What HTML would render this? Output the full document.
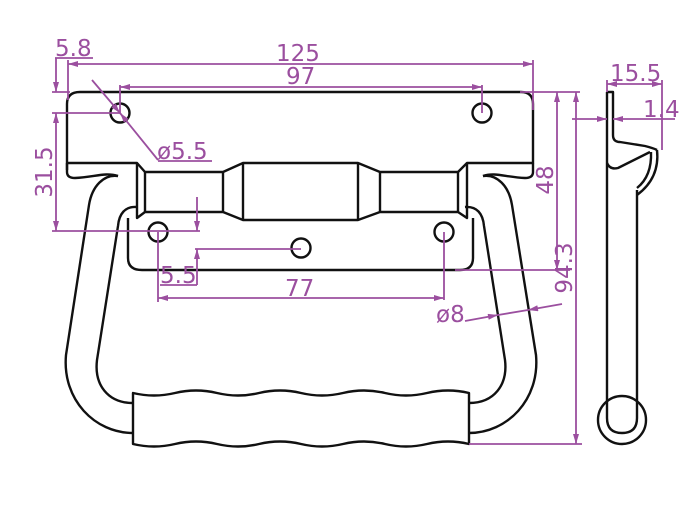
<!DOCTYPE html>
<html><head><meta charset="utf-8"><style>
html,body{margin:0;padding:0;background:#fff;}
svg{display:block}
text{font-family:"DejaVu Sans","Liberation Sans",sans-serif;fill:#9b4f9f;}
</style></head><body>
<svg width="700" height="528" viewBox="0 0 700 528" xmlns="http://www.w3.org/2000/svg">
<defs>
<marker id="a" viewBox="0 0 10 6" refX="10" refY="3" markerWidth="11" markerHeight="6" markerUnits="userSpaceOnUse" orient="auto-start-reverse">
<path d="M0,0 L10,3 L0,6 z" fill="#9b4f9f"/></marker>
</defs>
<g fill="none" stroke="#111" stroke-width="2.4" stroke-linejoin="round">
<path d="M67,170 L67,104 Q67,92 80,92 L521,92 Q533,92 533,104 L533,163 L467,163 L458,172 L380,172 L358,163 L243,163 L223,172 L145,172 L137,163 L67,163"/>
<path d="M67,163 L67,172 Q67,178 75,178 C95,177 105,172 118,176"/>
<path d="M533,163 L533,172 Q533,178 525,178 C505,177 495,172 483,176"/>
<path d="M137,163 L137,218 L145,212 L223,212 L243,220 L358,220 L380,212 L458,212 L467,218 L467,163"/>
<line x1="145" y1="172" x2="145" y2="212"/><line x1="223" y1="172" x2="223" y2="212"/>
<line x1="243" y1="163" x2="243" y2="220"/><line x1="358" y1="163" x2="358" y2="220"/>
<line x1="380" y1="172" x2="380" y2="212"/><line x1="458" y1="172" x2="458" y2="212"/>
<path d="M128,218 L128,258 Q128,270 142,270 L460,270 Q473,270 473,258 L473,218"/>
<circle cx="120" cy="113" r="9.5"/><circle cx="482" cy="113" r="9.5"/>
<circle cx="158" cy="232" r="9.5"/><circle cx="301" cy="248" r="9.5"/><circle cx="444" cy="232" r="9.5"/>
<path d="M118,176 C104,174 92,186 89,205 L66,355 C62,400 95,433 133,433"/>
<path d="M137,207 C125,206 119,214 118,226 L97,360 C94,385 108,403 133,403"/>
<path d="M483,176 C497,174 509,186 512,205 L536,355 C540,400 507,433 469,433"/>
<path d="M465,207 C477,206 483,214 484,226 L505,360 C508,385 494,403 469,403"/>
<path d="M133,393 q21,5 42,0 t42,0 t42,0 t42,0 t42,0 t42,0 t42,0 t42,0 L469,444 q-21,-5 -42,0 t-42,0 t-42,0 t-42,0 t-42,0 t-42,0 t-42,0 t-42,0 Z" fill="#fff"/>
<path d="M607,92 L613,92 L613,135 Q613,142 620,142 L645,146 Q653,148 657,150"/>
<path d="M607,92 L607,410"/>
<path d="M637,190 L637,410"/>
<path d="M607,163 Q610,170 618,168 L650,152"/>
<path d="M657,150 Q660,178 637,195"/>
<path d="M651,152 Q652,176 637,188"/>
<path d="M607,410 L607,418 Q607,433 622,433 Q637,433 637,418 L637,410"/>
<circle cx="622" cy="420" r="24"/>
</g>
<g stroke="#9b4f9f" stroke-width="1.8" fill="none">
<line x1="68" y1="64" x2="533" y2="64" marker-start="url(#a)" marker-end="url(#a)"/>
<line x1="68" y1="60" x2="68" y2="100"/><line x1="533" y1="60" x2="533" y2="110"/>
<line x1="55" y1="58" x2="93" y2="58"/>
<line x1="56" y1="58" x2="56" y2="92" marker-end="url(#a)"/>
<line x1="52" y1="92" x2="70" y2="92"/><line x1="52" y1="113" x2="120" y2="113"/>
<line x1="56" y1="113" x2="56" y2="231" marker-start="url(#a)" marker-end="url(#a)"/>
<line x1="52" y1="231" x2="200" y2="231"/>
<line x1="120" y1="87" x2="482" y2="87" marker-start="url(#a)" marker-end="url(#a)"/>
<line x1="120" y1="85" x2="120" y2="113"/><line x1="482" y1="85" x2="482" y2="113"/>
<line x1="92" y1="80" x2="120" y2="113" marker-end="url(#a)"/>
<line x1="158" y1="160" x2="120" y2="113" marker-end="url(#a)"/>
<line x1="158" y1="161" x2="212" y2="161"/>
<line x1="197" y1="197" x2="197" y2="231" marker-end="url(#a)"/>
<line x1="197" y1="285" x2="197" y2="249" marker-end="url(#a)"/>
<line x1="195" y1="249" x2="301" y2="249"/>
<line x1="160" y1="285" x2="197" y2="285"/>
<line x1="158" y1="298" x2="444" y2="298" marker-start="url(#a)" marker-end="url(#a)"/>
<line x1="158" y1="232" x2="158" y2="302"/><line x1="444" y1="232" x2="444" y2="300"/>
<line x1="465" y1="321" x2="498" y2="315" marker-end="url(#a)"/>
<line x1="498" y1="315" x2="528" y2="310"/>
<line x1="562" y1="304" x2="528" y2="310" marker-end="url(#a)"/>
<line x1="557" y1="92" x2="557" y2="270" marker-start="url(#a)" marker-end="url(#a)"/>
<line x1="520" y1="92" x2="580" y2="92"/><line x1="455" y1="270" x2="570" y2="270"/>
<line x1="576" y1="92" x2="576" y2="444" marker-start="url(#a)" marker-end="url(#a)"/>
<line x1="469" y1="444" x2="582" y2="444"/>
<line x1="607" y1="84" x2="662" y2="84" marker-start="url(#a)" marker-end="url(#a)"/>
<line x1="607" y1="80" x2="607" y2="92"/><line x1="662" y1="80" x2="662" y2="150"/>
<line x1="572" y1="119" x2="607" y2="119" marker-end="url(#a)"/>
<line x1="675" y1="119" x2="613" y2="119" marker-end="url(#a)"/>
</g>
<g font-size="23">
<text x="55" y="56">5.8</text>
<text x="276" y="61">125</text>
<text x="286" y="84">97</text>
<text x="157" y="159">ø5.5</text>
<text x="160" y="283">5.5</text>
<text x="285" y="296">77</text>
<text x="436" y="322">ø8</text>
<text x="610" y="81">15.5</text>
<text x="643" y="117">1.4</text>
<text transform="translate(52,172) rotate(-90)" text-anchor="middle">31.5</text>
<text transform="translate(553,180) rotate(-90)" text-anchor="middle">48</text>
<text transform="translate(572,268) rotate(-90)" text-anchor="middle">94.3</text>
</g>
</svg>
</body></html>
